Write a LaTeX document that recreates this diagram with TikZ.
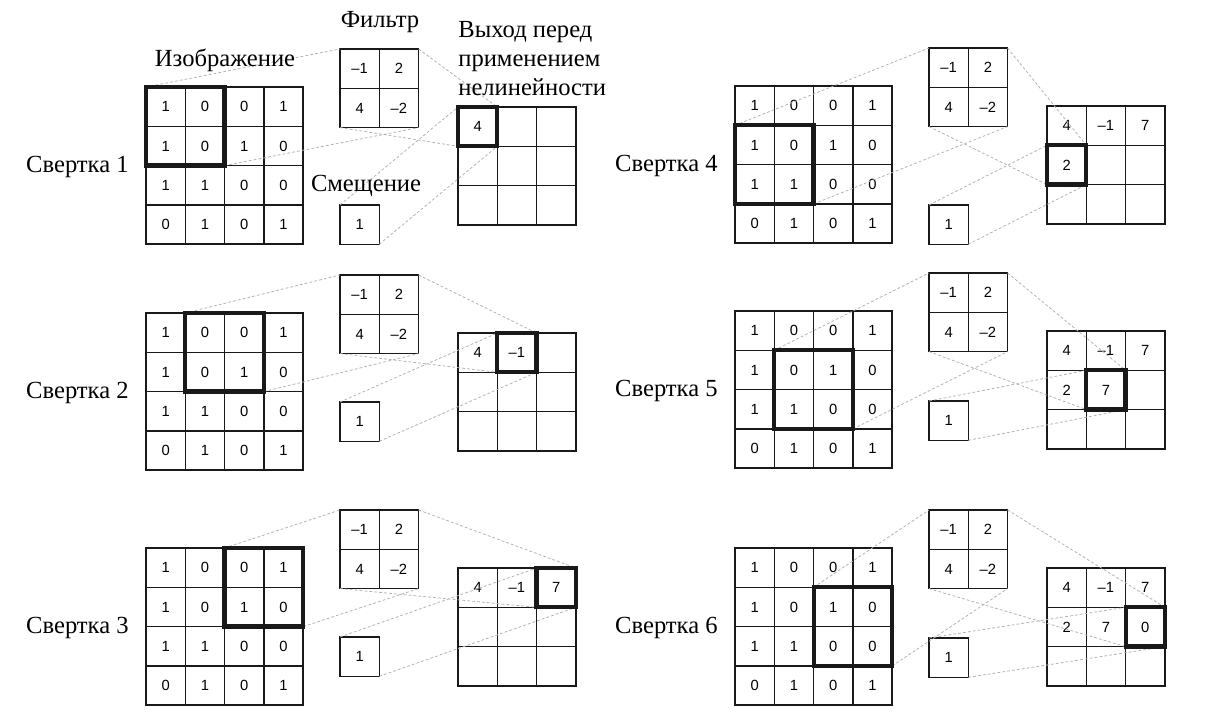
\documentclass[tikz,border=0pt]{standalone}
\usepackage{fontspec}
\setmainfont{Liberation Serif}
\newfontfamily\numfont{Liberation Sans}
\tikzset{
  cell/.style={draw=black!90, line width=0.8pt, minimum size=0.786cm, inner sep=0pt, outer sep=0pt, font=\numfont\fontsize{8.4}{9}\selectfont},
  win/.style={draw=black!90, line width=2.4pt},
  proj/.style={draw=gray!60, dash pattern=on 1.6pt off 1.2pt, line width=0.45pt},
  lbl/.style={font=\fontsize{14}{16.5}\selectfont, inner sep=0pt}
}
\newcommand\convpanel[7]{%
  \foreach \v [count=\i from 0] in {1,0,0,1,1,0,1,0,1,1,0,0,0,1,0,1}{
    \pgfmathtruncatemacro\prr{\i/4}
    \pgfmathtruncatemacro\pcc{mod(\i,4)}
    \node[cell] (#1-i-\prr-\pcc) at ({#2+39.3*\pcc+19.65},{#3+39.3*\prr+19.65}) {\v};
  }
  \foreach \v [count=\i from 0] in {–1,2,4,–2}{
    \pgfmathtruncatemacro\prr{\i/2}
    \pgfmathtruncatemacro\pcc{mod(\i,2)}
    \node[cell] (#1-f-\prr-\pcc) at ({#2+194+39.3*\pcc+19.65},{#3-38+39.3*\prr+19.65}) {\v};
  }
  \node[cell] (#1-b) at ({#2+194+19.65},{#3+#6+19.65}) {1};
  \pgfmathtruncatemacro\pkk{#4*3+#5}
  \foreach \v [count=\i from 0] in {4,–1,7,2,7,0,x,x,x}{
    \pgfmathtruncatemacro\prr{\i/3}
    \pgfmathtruncatemacro\pcc{mod(\i,3)}
    \node[cell] (#1-o-\prr-\pcc) at ({#2+312+39.3*\pcc+19.65},{#3+20+39.3*\prr+19.65}) {\ifnum\i>\pkk\relax\else\v\fi};
  }
  \pgfmathtruncatemacro\pra{#4+1}
  \pgfmathtruncatemacro\pca{#5+1}
  \draw[proj] (#1-i-#4-#5.north west) -- (#1-f-0-0.north west);
  \draw[proj] (#1-i-\pra-\pca.south east) -- (#1-f-1-1.south east);
  \draw[proj] (#1-f-0-1.north east) -- (#1-o-#4-#5.north east);
  \draw[proj] (#1-f-1-0.south west) -- (#1-o-#4-#5.south west);
  \draw[proj] (#1-b.north west) -- (#1-o-#4-#5.north west);
  \draw[proj] (#1-b.south east) -- (#1-o-#4-#5.south east);
  \draw[win] (#1-i-#4-#5.north west) rectangle (#1-i-\pra-\pca.south east);
  \draw[win] (#1-o-#4-#5.north west) rectangle (#1-o-#4-#5.south east);
  \node[lbl, anchor=east] (#1-lab) at ({#2-17},{#3+80}) {Свертка #7};
}
\begin{document}
\begin{tikzpicture}[x=0.02cm,y=-0.02cm]
\useasboundingbox (0,0) rectangle (1205,715);
\convpanel{pa}{146}{87}{0}{0}{118}{1}
\convpanel{pb}{146}{313}{0}{1}{89}{2}
\convpanel{pc}{146}{548}{0}{2}{89}{3}
\convpanel{pd}{735}{86}{1}{0}{119}{4}
\convpanel{pe}{735}{311}{1}{1}{90}{5}
\convpanel{pf}{735}{548}{1}{2}{90}{6}
\node[lbl] (tImg) at (225,60) {Изображение};
\node[lbl] (tFil) at (380,22) {Фильтр};
\node[lbl, anchor=west, align=left] (tOut) at (458,59) {Выход перед\\применением\\нелинейности};
\node[lbl] (tBias) at (366,186) {Смещение};
\end{tikzpicture}
\end{document}
